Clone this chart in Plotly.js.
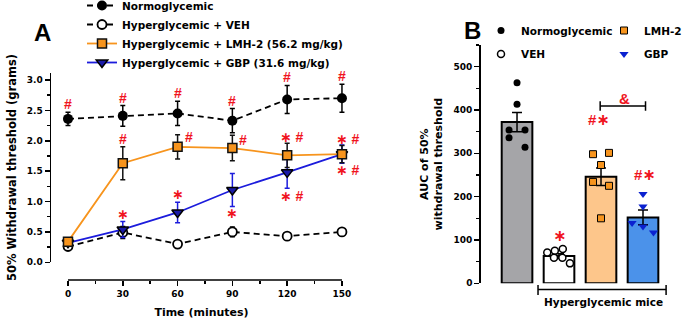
<!DOCTYPE html>
<html>
<head>
<meta charset="utf-8">
<script src="https://cdn.plot.ly/plotly-3.0.1.min.js"></script>
<style>
  html, body { margin: 0; padding: 0; background: #fff; }
  #chart { width: 685px; height: 325px; }
</style>
</head>
<body>
<div id="chart"></div>
<script>
// ---- Panel A: time course of 50% withdrawal threshold (grams), mean ± SEM ----
const times = [0, 30, 60, 90, 120, 150];
const normoMean = [2.36, 2.41, 2.45, 2.33, 2.68, 2.70];
const normoSem  = [0.11, 0.17, 0.20, 0.20, 0.23, 0.23];
const vehMean   = [0.26, 0.49, 0.30, 0.50, 0.43, 0.50];
const vehSem    = [0.03, 0.10, 0.03, 0.08, 0.05, 0.03];
const lmhMean   = [0.34, 1.63, 1.90, 1.88, 1.76, 1.78];
const lmhSem    = [0.04, 0.27, 0.20, 0.21, 0.20, 0.14];
const gbpMean   = [0.32, 0.54, 0.82, 1.19, 1.48, 1.78];
const gbpSem    = [0.03, 0.13, 0.17, 0.27, 0.26, 0.15];

// significance marks per time point
const sigNormo = ['#', '#', '#', '#', '#', '#'];
const sigLmh   = ['', '#', '#', '#', '* #', '* #'];
const sigGbp   = ['', '*', '*', '*', '* #', '* #'];

// ---- Panel B: AUC of 50% withdrawal threshold ----
const groupNames = ['Normoglycemic', 'VEH', 'LMH-2', 'GBP'];
const aucMean = [372, 63, 246, 152];
const aucSem  = [22, 5, 20, 17];
const aucNormo = [463, 413, 354, 354, 336, 314];
const aucVeh   = [71, 75, 79, 59, 59, 46];
const aucLmh   = [298, 301, 273, 234, 225, 150];
const aucGbp   = [206, 177, 139, 131, 117];

// ---- styling ----
const FONT = 'DejaVu Sans, sans-serif';
const RED = '#f0141e';
const ORANGE = '#f7941d';
const BLUE = '#1c1cdc';
const W = 685, H = 325;
const px = v => v / W;          // horizontal pixel -> paper
const py = v => 1 - v / H;      // vertical pixel -> paper

// horizontal scatter of individual animals around each bar
const spread = {
  normo: [0, 0, -0.19, 0.19, -0.19, 0.19],
  veh:   [-0.28, -0.10, 0.09, -0.12, 0.08, 0.26],
  lmh:   [-0.19, 0.19, 0, -0.19, 0.19, 0],
  gbp:   [0, 0, -0.26, 0, 0.25]
};

const traces = [];

// Panel A lines
traces.push({
  x: times, y: vehMean, xaxis: 'x', yaxis: 'y', name: 'Hyperglycemic + VEH',
  mode: 'lines+markers', legendrank: 2, cliponaxis: false,
  line: { color: '#000', width: 1.8, dash: '6px,4px' },
  marker: { symbol: 'circle', size: 9, color: '#fff', line: { color: '#000', width: 1.8 } },
  error_y: { type: 'data', array: vehSem, color: '#000', thickness: 1.5, width: 2.5 }
});
traces.push({
  x: times, y: normoMean, xaxis: 'x', yaxis: 'y', name: 'Normoglycemic',
  mode: 'lines+markers', legendrank: 1, cliponaxis: false,
  line: { color: '#000', width: 1.8, dash: '6px,4px' },
  marker: { symbol: 'circle', size: 10, color: '#000' },
  error_y: { type: 'data', array: normoSem, color: '#000', thickness: 1.5, width: 2.5 }
});
traces.push({
  x: times, y: gbpMean, xaxis: 'x', yaxis: 'y', name: 'Hyperglycemic + GBP (31.6 mg/kg)',
  mode: 'lines+markers', legendrank: 4, cliponaxis: false,
  line: { color: BLUE, width: 1.8 },
  marker: { symbol: 'triangle-down', size: 10, color: '#1a1aa8', line: { color: '#000', width: 1.5 } },
  error_y: { type: 'data', array: gbpSem, color: BLUE, thickness: 1.5, width: 2.5 }
});
traces.push({
  x: times, y: lmhMean, xaxis: 'x', yaxis: 'y', name: 'Hyperglycemic + LMH-2 (56.2 mg/kg)',
  mode: 'lines+markers', legendrank: 3, cliponaxis: false,
  line: { color: ORANGE, width: 1.8 },
  marker: { symbol: 'square', size: 9, color: ORANGE, line: { color: '#111', width: 1.5 } },
  error_y: { type: 'data', array: lmhSem, color: '#111', thickness: 1.5, width: 2.5 }
});

// Panel B bars
traces.push({
  type: 'bar', x: [0, 1, 2, 3], y: aucMean, xaxis: 'x2', yaxis: 'y2',
  width: 0.73, showlegend: false, hoverinfo: 'skip',
  marker: { color: ['#a5a5a8', '#ffffff', '#fdc68b', '#4b92ea'], line: { color: '#000', width: 2 } },
  error_y: { type: 'data', array: aucSem, color: '#000', thickness: 1.5, width: 5 }
});

function dots(idx, vals, off, name, legend, marker) {
  return {
    x: vals.map((_, i) => idx + off[i]), y: vals, xaxis: 'x2', yaxis: 'y2',
    mode: 'markers', name: name, legend: legend, legendgroup: name,
    cliponaxis: false, marker: marker
  };
}
traces.push(dots(0, aucNormo, spread.normo, groupNames[0], 'legend2',
  { symbol: 'circle', size: 7, color: '#000' }));
traces.push(dots(1, aucVeh, spread.veh, groupNames[1], 'legend2',
  { symbol: 'circle', size: 7, color: '#fff', line: { color: '#000', width: 1.5 } }));
traces.push(dots(2, aucLmh, spread.lmh, groupNames[2], 'legend3',
  { symbol: 'square', size: 7, color: ORANGE, line: { color: '#000', width: 1 } }));
traces.push(dots(3, aucGbp, spread.gbp, groupNames[3], 'legend3',
  { symbol: 'triangle-down', size: 8, color: '#0b22d0' }));

// ---- significance annotations for panel A ----
const annotations = [];
// asterisks set in a centred, heavier glyph so they line up with the hash marks
function sigText(t, size) {
  return t.replace(/\*/g, '<span style="font-family:DejaVu Sans;font-size:' + size + 'px">\u2217</span>');
}
function addSig(labels, mean, sem, place) {
  labels.forEach((t, i) => {
    if (!t) return;
    const p = place[i];
    const y = p.ref === 'top' ? mean[i] + sem[i] : mean[i] - sem[i];
    annotations.push({
      xref: 'x', yref: 'y', x: times[i], y: y, text: sigText(t, 14), showarrow: false,
      xanchor: 'center', yanchor: 'middle', xshift: p.dx, yshift: p.dy,
      font: { family: 'Liberation Sans, Arial, sans-serif', size: 14, color: RED, weight: 'bold' }
    });
  });
}
addSig(sigNormo, normoMean, normoSem, times.map(() => ({ ref: 'top', dx: 0, dy: 8 })));
addSig(sigLmh, lmhMean, lmhSem, [null,
  { ref: 'top', dx: 0, dy: 8 }, { ref: 'top', dx: 11, dy: -2 }, { ref: 'top', dx: 11, dy: -5 },
  { ref: 'top', dx: 5, dy: 6 }, { ref: 'top', dx: 6, dy: 7 }]);
addSig(sigGbp, gbpMean, gbpSem, [null,
  { ref: 'top', dx: 0, dy: 8 }, { ref: 'top', dx: 0, dy: 8 }, { ref: 'bottom', dx: 0, dy: -7 },
  { ref: 'bottom', dx: 5, dy: -8 }, { ref: 'bottom', dx: 6, dy: -7 }]);

// panel B significance marks
const sigFont = { family: 'Liberation Sans, Arial, sans-serif', size: 15, color: RED, weight: 'bold' };
annotations.push({ xref: 'x2', yref: 'y2', x: 1, y: Math.max(...aucVeh), yshift: 14,
  text: sigText('*', 16), showarrow: false, font: sigFont });
annotations.push({ xref: 'x2', yref: 'y2', x: 1.96, y: Math.max(...aucLmh), yshift: 33,
  text: sigText('#*', 16), showarrow: false, font: sigFont });
annotations.push({ xref: 'x2', yref: 'y2', x: 3.05, y: Math.max(...aucGbp), yshift: 20,
  text: sigText('#*', 16), showarrow: false, font: sigFont });
annotations.push({ xref: 'x2', yref: 'y2', x: 2.55, y: 409, yshift: 8,
  text: '&', showarrow: false, font: sigFont });

// panel letters and group caption
const letterFont = { family: 'Liberation Sans, Arial, sans-serif', size: 24, color: '#000', weight: 'bold' };
annotations.push({ xref: 'paper', yref: 'paper', x: px(42), y: py(32), text: 'A',
  showarrow: false, xanchor: 'center', yanchor: 'middle', font: letterFont });
annotations.push({ xref: 'paper', yref: 'paper', x: px(472), y: py(30), text: 'B',
  showarrow: false, xanchor: 'center', yanchor: 'middle', font: letterFont });
annotations.push({ xref: 'x2', yref: 'paper', x: 2.05, y: py(302), text: 'Hyperglycemic mice',
  showarrow: false, xanchor: 'center', yanchor: 'middle',
  font: { family: FONT, size: 10.5, color: '#000', weight: 'bold' } });

// ---- shapes: offset x axis line for A, brackets for B ----
const axisY = py(280);
const shapes = [
  { type: 'line', xref: 'x', yref: 'paper', x0: times[0], x1: times[times.length - 1], y0: axisY, y1: axisY,
    line: { color: '#000', width: 1.5 } },
  // "Hyperglycemic mice" bracket
  { type: 'line', xref: 'x2', yref: 'paper', x0: 0.5, x1: 3.55, y0: py(289.5), y1: py(289.5), line: { color: '#000', width: 1.5 } },
  { type: 'line', xref: 'x2', yref: 'paper', x0: 0.5, x1: 0.5, y0: py(285), y1: py(295), line: { color: '#000', width: 1.5 } },
  { type: 'line', xref: 'x2', yref: 'paper', x0: 3.55, x1: 3.55, y0: py(285), y1: py(295), line: { color: '#000', width: 1.5 } },
  // LMH-2 vs GBP comparison bracket
  { type: 'line', xref: 'x2', yref: 'y2', x0: 1.98, x1: 3.06, y0: 409, y1: 409, line: { color: '#000', width: 1.5 } },
  { type: 'line', xref: 'x2', yref: 'y2', x0: 1.98, x1: 1.98, y0: 398, y1: 420, line: { color: '#000', width: 1.5 } },
  { type: 'line', xref: 'x2', yref: 'y2', x0: 3.06, x1: 3.06, y0: 398, y1: 420, line: { color: '#000', width: 1.5 } }
];

const tickFont = { family: FONT, size: 9, color: '#000', weight: 'bold' };
const legendFont = { family: FONT, size: 10.5, color: '#000', weight: 'bold' };

const layout = {
  width: W, height: H,
  margin: { l: 0, r: 0, t: 0, b: 0, autoexpand: false },
  paper_bgcolor: '#fff', plot_bgcolor: 'rgba(0,0,0,0)',
  showlegend: true,
  xaxis: {
    domain: [px(51), px(352)], range: [-9.31, 155.5], anchor: 'free', position: axisY,
    showline: false, zeroline: false, showgrid: false,
    tickmode: 'linear', tick0: 0, dtick: 30, ticks: 'outside', ticklen: 5, tickwidth: 1.5, tickcolor: '#000',
    minor: { tick0: 0, dtick: 15, ticks: 'outside', ticklen: 3, tickwidth: 1.5, tickcolor: '#000' },
    tickfont: tickFont,
    title: { text: 'Time (minutes)', font: { family: FONT, size: 11, color: '#000', weight: 'bold' }, standoff: 10 }
  },
  yaxis: {
    domain: [py(262.3), py(72.7)], range: [0, 3.12], anchor: 'x',
    showline: true, linewidth: 1.5, linecolor: '#000', zeroline: false, showgrid: false,
    tickmode: 'linear', tick0: 0, dtick: 0.5, tickformat: '.1f',
    ticks: 'outside', ticklen: 5, tickwidth: 1.5, tickcolor: '#000',
    minor: { tick0: 0, dtick: 0.25, ticks: 'outside', ticklen: 3, tickwidth: 1.5, tickcolor: '#000' },
    tickfont: tickFont,
    title: { text: '50% Withdrawal threshold (grams)', font: { family: FONT, size: 11.5, color: '#000', weight: 'bold' }, standoff: 7 }
  },
  xaxis2: {
    domain: [px(480.7), px(670)], range: [-0.865, 3.643], anchor: 'y2',
    showline: false, zeroline: false, showgrid: false, showticklabels: false, ticks: ''
  },
  yaxis2: {
    domain: [py(283.3), py(45)], range: [0, 550], anchor: 'x2',
    showline: true, linewidth: 1.5, linecolor: '#000', zeroline: false, showgrid: false,
    tickmode: 'linear', tick0: 0, dtick: 100,
    ticks: 'outside', ticklen: 5, tickwidth: 1.5, tickcolor: '#000',
    minor: { tick0: 0, dtick: 50, ticks: 'outside', ticklen: 3, tickwidth: 1.5, tickcolor: '#000' },
    tickfont: tickFont,
    title: { text: 'AUC of 50%<br>withdrawal threshold', font: { family: FONT, size: 11, color: '#000', weight: 'bold' }, standoff: 8 }
  },
  legend: {
    x: px(82), y: py(-9), xanchor: 'left', yanchor: 'top', orientation: 'v',
    bgcolor: 'rgba(0,0,0,0)', borderwidth: 0, font: legendFont, tracegroupgap: 0
  },
  legend2: {
    x: px(481), y: py(16), xanchor: 'left', yanchor: 'top', orientation: 'v',
    bgcolor: 'rgba(0,0,0,0)', borderwidth: 0, font: legendFont, tracegroupgap: 4.5
  },
  legend3: {
    x: px(604), y: py(16), xanchor: 'left', yanchor: 'top', orientation: 'v',
    bgcolor: 'rgba(0,0,0,0)', borderwidth: 0, font: legendFont, tracegroupgap: 4.5
  },
  annotations: annotations,
  shapes: shapes
};

Plotly.newPlot('chart', traces, layout, { staticPlot: true, displayModeBar: false });
</script>
</body>
</html>
